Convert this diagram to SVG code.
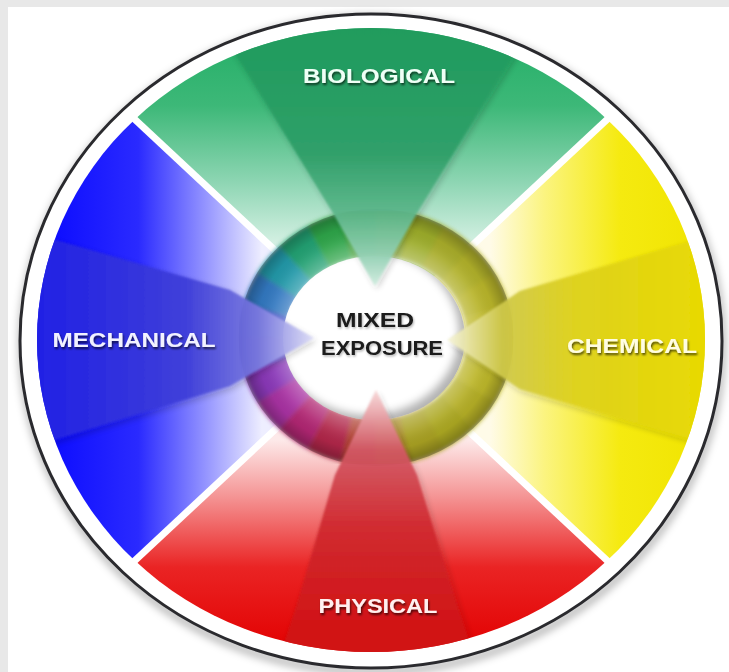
<svg xmlns="http://www.w3.org/2000/svg" width="729" height="672" viewBox="0 0 729 672">
  <style>
    .lbl { font-family: "Liberation Sans", Arial, sans-serif; font-weight: bold; font-size: 21px; text-anchor: middle; }
    .ctr { font-family: "Liberation Sans", Arial, sans-serif; font-weight: bold; font-size: 20px; text-anchor: middle; fill: #1a1a1a; }
    .gap { stroke: #ffffff; stroke-width: 7; }
    .seg { fill: none; stroke-width: 47; }
  </style>
  <defs>
    <linearGradient id="gGreen" gradientUnits="userSpaceOnUse" x1="0" y1="28" x2="0" y2="250">
      <stop offset="0" stop-color="#22ae66"/>
      <stop offset="0.35" stop-color="#3db878"/>
      <stop offset="0.7" stop-color="#8fd6b4"/>
      <stop offset="1" stop-color="#dcf3e8"/>
    </linearGradient>
    <linearGradient id="gBlue" gradientUnits="userSpaceOnUse" x1="37" y1="0" x2="262" y2="0">
      <stop offset="0" stop-color="#0808ff"/>
      <stop offset="0.45" stop-color="#2a2aff"/>
      <stop offset="0.72" stop-color="#8a8aff"/>
      <stop offset="1" stop-color="#eeeeff"/>
    </linearGradient>
    <linearGradient id="gYellow" gradientUnits="userSpaceOnUse" x1="707" y1="0" x2="490" y2="0">
      <stop offset="0" stop-color="#f0e400"/>
      <stop offset="0.4" stop-color="#f5ea10"/>
      <stop offset="0.75" stop-color="#fbf480"/>
      <stop offset="1" stop-color="#fffbe8"/>
    </linearGradient>
    <linearGradient id="gRed" gradientUnits="userSpaceOnUse" x1="0" y1="652" x2="0" y2="440">
      <stop offset="0" stop-color="#e20000"/>
      <stop offset="0.4" stop-color="#ea2424"/>
      <stop offset="0.75" stop-color="#f59a9a"/>
      <stop offset="1" stop-color="#fde9e9"/>
    </linearGradient>
    <linearGradient id="bGreen" gradientUnits="userSpaceOnUse" x1="0" y1="20" x2="0" y2="288">
      <stop offset="0" stop-color="#1f9a5c"/>
      <stop offset="0.5" stop-color="#2e9e68"/>
      <stop offset="0.72" stop-color="#5cb68a"/>
      <stop offset="0.88" stop-color="#94d0b4"/>
      <stop offset="1" stop-color="#d4eee2"/>
    </linearGradient>
    <linearGradient id="bBlue" gradientUnits="userSpaceOnUse" x1="30" y1="0" x2="314" y2="0">
      <stop offset="0" stop-color="#2222e4"/>
      <stop offset="0.55" stop-color="#3e3ed8"/>
      <stop offset="0.8" stop-color="#7878de"/>
      <stop offset="1" stop-color="#dcdcf6"/>
    </linearGradient>
    <linearGradient id="bYellow" gradientUnits="userSpaceOnUse" x1="720" y1="0" x2="447" y2="0">
      <stop offset="0" stop-color="#e8da00"/>
      <stop offset="0.55" stop-color="#ddd020"/>
      <stop offset="0.8" stop-color="#cec84a"/>
      <stop offset="1" stop-color="#f6f4dc"/>
    </linearGradient>
    <linearGradient id="bRed" gradientUnits="userSpaceOnUse" x1="0" y1="660" x2="0" y2="390">
      <stop offset="0" stop-color="#d01010"/>
      <stop offset="0.5" stop-color="#cf2a30"/>
      <stop offset="0.78" stop-color="#d35a66"/>
      <stop offset="1" stop-color="#f8d8d8"/>
    </linearGradient>
    <radialGradient id="ringShade" gradientUnits="userSpaceOnUse" cx="376" cy="337.5" r="137.5" gradientTransform="translate(376 337.5) scale(1 0.9345) translate(-376 -337.5)">
      <stop offset="0.658" stop-color="#ffffff" stop-opacity="0.3"/>
      <stop offset="0.78" stop-color="#ffffff" stop-opacity="0.08"/>
      <stop offset="0.88" stop-color="#000000" stop-opacity="0.04"/>
      <stop offset="1" stop-color="#000000" stop-opacity="0.3"/>
    </radialGradient>
    <clipPath id="colorClip">
      <ellipse cx="371" cy="340" rx="334" ry="312"/>
    </clipPath>
    <clipPath id="innerClip">
      <ellipse cx="374" cy="338" rx="91" ry="82"/>
    </clipPath>
    <filter id="soft" x="-20%" y="-20%" width="140%" height="140%">
      <feGaussianBlur stdDeviation="4"/>
    </filter>
    <filter id="ringBlur" x="-10%" y="-10%" width="120%" height="120%">
      <feGaussianBlur stdDeviation="2"/>
    </filter>
    <filter id="beamShadow" x="-20%" y="-20%" width="140%" height="140%">
      <feGaussianBlur in="SourceGraphic" stdDeviation="1.3" result="b"/>
      <feDropShadow in="b" dx="2" dy="3" stdDeviation="3" flood-color="#000000" flood-opacity="0.22"/>
    </filter>
    <filter id="textShadow" x="-10%" y="-30%" width="120%" height="170%">
      <feDropShadow dx="1" dy="2" stdDeviation="1" flood-color="#000000" flood-opacity="0.65"/>
    </filter>
    <filter id="textShadowLight" x="-10%" y="-30%" width="120%" height="170%">
      <feDropShadow dx="1" dy="1.5" stdDeviation="1" flood-color="#000000" flood-opacity="0.3"/>
    </filter>
  </defs>

  <!-- background -->
  <rect x="0" y="0" width="729" height="672" fill="#e8e8e8"/>
  <rect x="8" y="7" width="721" height="665" fill="#ffffff"/>

  <!-- outer rim -->
  <g id="rim">
    <ellipse cx="372" cy="345" rx="350" ry="327" fill="none" stroke="#000000" stroke-opacity="0.35" stroke-width="6" filter="url(#soft)"/>
    <ellipse cx="371" cy="341" rx="351" ry="327" fill="#ffffff" stroke="#2a2a2e" stroke-width="3"/>
  </g>

  <!-- sectors -->
  <g id="sector-biological">
    <path d="M371,340 L134.8,119.4 A334,312 0 0 1 607.2,119.4 Z" fill="url(#gGreen)"/>
  </g>
  <g id="sector-chemical">
    <path d="M371,340 L607.2,119.4 A334,312 0 0 1 607.2,560.6 Z" fill="url(#gYellow)"/>
  </g>
  <g id="sector-physical">
    <path d="M371,340 L607.2,560.6 A334,312 0 0 1 134.8,560.6 Z" fill="url(#gRed)"/>
  </g>
  <g id="sector-mechanical">
    <path d="M371,340 L134.8,560.6 A334,312 0 0 1 134.8,119.4 Z" fill="url(#gBlue)"/>
  </g>

  <!-- separators -->
  <g id="separators">
    <line class="gap" x1="371" y1="340" x2="128" y2="113"/>
    <line class="gap" x1="371" y1="340" x2="614" y2="113"/>
    <line class="gap" x1="371" y1="340" x2="614" y2="567"/>
    <line class="gap" x1="371" y1="340" x2="128" y2="567"/>
  </g>

  <!-- colour ring -->
  <g id="ring">
    <g filter="url(#ringBlur)">
      <ellipse cx="376" cy="337.5" rx="114" ry="105" fill="none" stroke="#a0a040" stroke-width="47"/>
      <path class="seg" stroke="#c4be30" d="M490,337.5 A114,105 0 0 1 486.1,364.7"/>
      <path class="seg" stroke="#bcb62a" d="M486.1,364.7 A114,105 0 0 1 474.7,390"/>
      <path class="seg" stroke="#b4ae26" d="M474.7,390 A114,105 0 0 1 456.6,411.7"/>
      <path class="seg" stroke="#aca824" d="M456.6,411.7 A114,105 0 0 1 433,428.4"/>
      <path class="seg" stroke="#a8a022" d="M433,428.4 A114,105 0 0 1 405.5,438.9"/>
      <path class="seg" stroke="#a88a26" d="M405.5,438.9 A114,105 0 0 1 376,442.5"/>
      <path class="seg" stroke="#b04030" d="M376,442.5 A114,105 0 0 1 346.5,438.9"/>
      <path class="seg" stroke="#b02848" d="M346.5,438.9 A114,105 0 0 1 319,428.4"/>
      <path class="seg" stroke="#b02872" d="M319,428.4 A114,105 0 0 1 295.4,411.7"/>
      <path class="seg" stroke="#a830a2" d="M295.4,411.7 A114,105 0 0 1 277.3,390"/>
      <path class="seg" stroke="#8a38b8" d="M277.3,390 A114,105 0 0 1 265.9,364.7"/>
      <path class="seg" stroke="#5a48d0" d="M265.9,364.7 A114,105 0 0 1 262,337.5"/>
      <path class="seg" stroke="#4a58d0" d="M262,337.5 A114,105 0 0 1 265.9,310.3"/>
      <path class="seg" stroke="#3078c0" d="M265.9,310.3 A114,105 0 0 1 277.3,285"/>
      <path class="seg" stroke="#2098a8" d="M277.3,285 A114,105 0 0 1 295.4,263.3"/>
      <path class="seg" stroke="#20a072" d="M295.4,263.3 A114,105 0 0 1 319,246.6"/>
      <path class="seg" stroke="#2ea44a" d="M319,246.6 A114,105 0 0 1 346.5,236.1"/>
      <path class="seg" stroke="#48a840" d="M346.5,236.1 A114,105 0 0 1 376,232.5"/>
      <path class="seg" stroke="#88a830" d="M376,232.5 A114,105 0 0 1 405.5,236.1"/>
      <path class="seg" stroke="#9cac2c" d="M405.5,236.1 A114,105 0 0 1 433,246.6"/>
      <path class="seg" stroke="#a8ac2a" d="M433,246.6 A114,105 0 0 1 456.6,263.3"/>
      <path class="seg" stroke="#b0b02a" d="M456.6,263.3 A114,105 0 0 1 474.7,285"/>
      <path class="seg" stroke="#b8b42c" d="M474.7,285 A114,105 0 0 1 486.1,310.3"/>
      <path class="seg" stroke="#c0ba2e" d="M486.1,310.3 A114,105 0 0 1 490,337.5"/>
    </g>
    <path fill="url(#ringShade)" fill-rule="evenodd" d="M513.5,337.5 A137.5,128.5 0 1 0 238.5,337.5 A137.5,128.5 0 1 0 513.5,337.5 Z M466.5,337.5 A90.5,81.5 0 1 1 285.5,337.5 A90.5,81.5 0 1 1 466.5,337.5 Z"/>
  </g>

  <!-- centre disc -->
  <g id="center">
    <ellipse cx="374" cy="338" rx="91" ry="82" fill="#ffffff"/>
    <g clip-path="url(#innerClip)">
      <path fill="#000000" fill-opacity="0.3" fill-rule="evenodd" filter="url(#soft)" d="M200,150 H560 V540 H200 Z M459,333 A91,82 0 1 0 277,333 A91,82 0 1 0 459,333 Z"/>
    </g>
  </g>

  <!-- beams -->
  <g id="beams" clip-path="url(#colorClip)">
    <polygon points="375,286 333,213 265,102 213,18 537,18 485,102 417,213" fill="url(#bGreen)" opacity="0.95" filter="url(#beamShadow)"/>
    <polygon points="447,340 520,291 720,232 720,448 520,389" fill="url(#bYellow)" opacity="0.95" filter="url(#beamShadow)"/>
    <polygon points="376,390 335,475 297,604 278,662 476,662 457,604 417,475" fill="url(#bRed)" opacity="0.95" filter="url(#beamShadow)"/>
    <polygon points="314,338 230,290 28,232 28,448 230,386" fill="url(#bBlue)" opacity="0.95" filter="url(#beamShadow)"/>
  </g>

  <!-- labels -->
  <g id="label-biological">
    <text class="lbl" x="379" y="83" fill="#effff6" textLength="152" lengthAdjust="spacingAndGlyphs" filter="url(#textShadow)">BIOLOGICAL</text>
  </g>
  <g id="label-mechanical">
    <text class="lbl" x="134" y="347" fill="#f2f2ff" textLength="163" lengthAdjust="spacingAndGlyphs" filter="url(#textShadow)">MECHANICAL</text>
  </g>
  <g id="label-chemical">
    <text class="lbl" x="632" y="353" fill="#fffde2" textLength="130" lengthAdjust="spacingAndGlyphs" filter="url(#textShadow)">CHEMICAL</text>
  </g>
  <g id="label-physical">
    <text class="lbl" x="378" y="613" fill="#fff0f0" textLength="119" lengthAdjust="spacingAndGlyphs" filter="url(#textShadow)">PHYSICAL</text>
  </g>
  <g id="label-center">
    <text class="ctr" x="375" y="327" textLength="78" lengthAdjust="spacingAndGlyphs" filter="url(#textShadowLight)">MIXED</text>
    <text class="ctr" x="382" y="355" textLength="122" lengthAdjust="spacingAndGlyphs" filter="url(#textShadowLight)">EXPOSURE</text>
  </g>
</svg>
